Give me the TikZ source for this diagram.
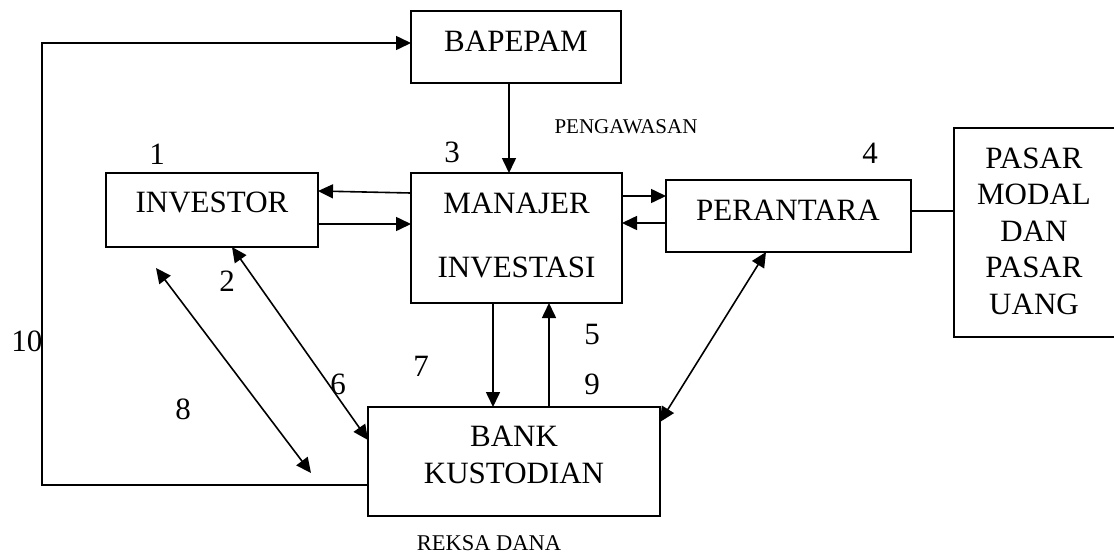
\documentclass[tikz,border=0pt]{standalone}
\usepackage{fontspec}
\setmainfont{Liberation Serif}
\usetikzlibrary{arrows.meta}
\begin{document}
\begin{tikzpicture}[x=1pt,y=-1pt,
  box/.style={draw, line width=1.4pt, inner sep=0pt, outer sep=0pt},
  lbl/.style={inner sep=0pt, font=\fontsize{31}{36.5}\selectfont, align=center},
  num/.style={inner sep=0pt, font=\fontsize{31}{36}\selectfont},
  small/.style={inner sep=0pt, font=\fontsize{21}{24}\selectfont},
  arr/.style={line width=1.6pt, -{Triangle[length=15pt,width=14pt]}},
  darr/.style={line width=1.6pt, {Triangle[length=15pt,width=14pt]}-{Triangle[length=15pt,width=14pt]}},
  plain/.style={line width=1.4pt}]
\useasboundingbox (0,0) rectangle (1114,555);

% boxes
\node[box, minimum width=210pt, minimum height=72pt] (bap) at (516,47) {};
\node[box, minimum width=212pt, minimum height=74pt] (inv) at (212,210) {};
\node[box, minimum width=211pt, minimum height=130pt] (man) at (516.5,238) {};
\node[box, minimum width=245pt, minimum height=72pt] (per) at (788.5,216) {};
\node[box, minimum width=162pt, minimum height=209pt] (pas) at (1035,232.5) {};
\node[box, minimum width=292pt, minimum height=109pt] (bank) at (514,461.5) {};

% box texts
\node[lbl] (tbap) at (516,41) {BAPEPAM};
\node[lbl] (tinv) at (212,202.5) {INVESTOR};
\node[lbl] (tman1) at (516.5,203) {MANAJER};
\node[lbl] (tman2) at (516.5,267) {INVESTASI};
\node[lbl] (tper) at (788,210) {PERANTARA};
\node[lbl] (tpas) at (1034,231) {PASAR\\MODAL\\DAN\\PASAR\\UANG};
\node[lbl, font=\fontsize{31}{37}\selectfont] (tbank) at (514,454.5) {BANK\\KUSTODIAN};

% small labels
\node[small] (peng) at (626,127) {PENGAWASAN};
\node[small, font=\fontsize{22.5}{26}\selectfont] (reksa) at (489,543) {REKSA DANA};

% numbers
\node[num] (n1) at (157,154) {1};
\node[num] (n2) at (227,281) {2};
\node[num] (n3) at (452,152) {3};
\node[num] (n4) at (870,153) {4};
\node[num] (n5) at (592,334) {5};
\node[num] (n6) at (338,384) {6};
\node[num] (n7) at (421,366) {7};
\node[num] (n8) at (183,409) {8};
\node[num] (n9) at (592,384) {9};
\node[num] (n10) at (27,341) {10};

% connectors
\draw[arr] (bap.south -| 509,0) -- (man.north -| 509,0);
\draw[arr] (man.west |- 0,193) -- (inv.east |- 0,191);
\draw[arr] (inv.east |- 0,224) -- (man.west |- 0,224);
\draw[arr] (man.east |- 0,196) -- (per.west |- 0,196);
\draw[arr] (per.west |- 0,223) -- (man.east |- 0,223);
\draw[plain] (per.east |- 0,211) -- (pas.west |- 0,211);
\draw[arr] (man.south -| 493,0) -- (bank.north -| 493,0);
\draw[arr] (bank.north -| 549,0) -- (man.south -| 549,0);
\draw[darr] (inv.south -| 232,0) -- (bank.west |- 0,440);
\draw[darr] (per.south -| 766,0) -- (bank.east |- 0,422);
\coordinate (e1) at (156,268);
\coordinate (e2) at (311,473);
\draw[darr] (e1) -- (e2);
\coordinate (c1) at (42,485);
\coordinate (c2) at (42,43);
\draw[arr] (bank.west |- c1) -- (c1) -- (c2) -- (bap.west |- c2);
\end{tikzpicture}
\end{document}
